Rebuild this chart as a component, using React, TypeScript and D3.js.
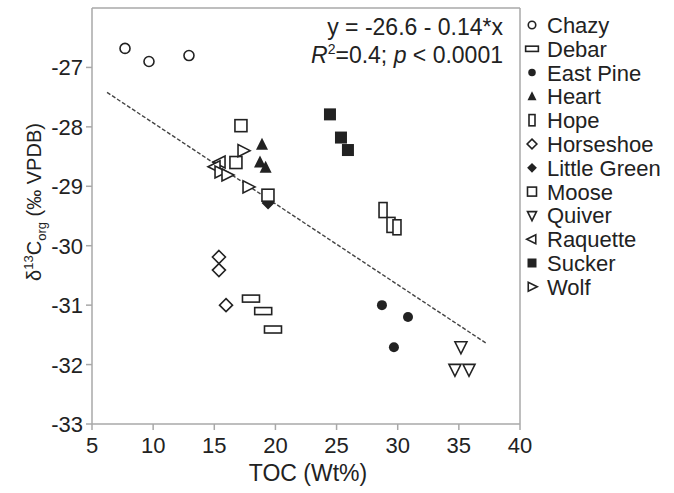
import React from "react";
import * as d3 from "d3";

const seriesNames = ["Chazy","Debar","East Pine","Heart","Hope","Horseshoe","Little Green","Moose","Quiver","Raquette","Sucker","Wolf"];
const chazyX = [7.7, 9.66, 12.93]; const chazyY = [-26.68, -26.9, -26.8];
const debarX = [18.0, 19.0, 19.8]; const debarY = [-30.89, -31.1, -31.41];
const eastPineX = [28.71, 30.84, 29.69]; const eastPineY = [-31.0, -31.2, -31.71];
const heartX = [18.9, 18.74, 19.2]; const heartY = [-28.3, -28.6, -28.69];
const hopeX = [28.8, 29.45, 29.94]; const hopeY = [-29.4, -29.65, -29.69];
const horseshoeX = [15.38, 15.38, 15.96]; const horseshoeY = [-30.19, -30.41, -31.0];
const littleGreenX = [19.4]; const littleGreenY = [-29.28];
const mooseX = [17.18, 16.77, 19.39]; const mooseY = [-27.98, -28.6, -29.15];
const quiverX = [35.17, 34.68, 35.83]; const quiverY = [-31.7, -32.08, -32.08];
const raquetteX = [15.47, 15.06]; const raquetteY = [-28.59, -28.67];
const suckerX = [24.46, 25.36, 25.93]; const suckerY = [-27.79, -28.18, -28.39];
const wolfX = [17.35, 17.76, 15.47, 16.04]; const wolfY = [-28.4, -29.01, -28.76, -28.81];

const xTicks = [5, 10, 15, 20, 25, 30, 35, 40];
const yTicks = [-27, -28, -29, -30, -31, -32, -33];
const fitX = [6.23, 37.3];
const fitY = [-27.42, -31.65];

const seriesX = [chazyX, debarX, eastPineX, heartX, hopeX, horseshoeX, littleGreenX, mooseX, quiverX, raquetteX, suckerX, wolfX];
const seriesY = [chazyY, debarY, eastPineY, heartY, hopeY, horseshoeY, littleGreenY, mooseY, quiverY, raquetteY, suckerY, wolfY];

const INK = "#222";
const AX = "#a8a8a8";
const FONT = "'Liberation Sans', Arial, sans-serif";

function marker(i: number, s: number) {
  const sw = 1.6;
  switch (i) {
    case 0: return <circle r={5 * s} fill="white" stroke={INK} strokeWidth={sw} />;
    case 1: return <rect x={-8.5 * s} y={-3.5 * s} width={17 * s} height={7 * s} fill="white" stroke={INK} strokeWidth={sw} />;
    case 2: return <circle r={5 * s} fill={INK} />;
    case 3: return <path d={`M0,${-7 * s}L${6 * s},${5 * s}L${-6 * s},${5 * s}Z`} fill={INK} />;
    case 4: return <rect x={-4 * s} y={-7.5 * s} width={8 * s} height={15 * s} fill="white" stroke={INK} strokeWidth={sw} />;
    case 5: return <path d={`M0,${-6.5 * s}L${6.5 * s},0L0,${6.5 * s}L${-6.5 * s},0Z`} fill="white" stroke={INK} strokeWidth={sw} />;
    case 6: return <path d={`M0,${-6.5 * s}L${6.5 * s},0L0,${6.5 * s}L${-6.5 * s},0Z`} fill={INK} />;
    case 7: return <rect x={-6 * s} y={-6 * s} width={12 * s} height={12 * s} fill="white" stroke={INK} strokeWidth={sw} />;
    case 8: return <path d={`M${-6 * s},${-5 * s}L${6 * s},${-5 * s}L0,${7 * s}Z`} fill="white" stroke={INK} strokeWidth={sw} />;
    case 9: return <path d={`M${-7 * s},0L${5 * s},${-6 * s}L${5 * s},${6 * s}Z`} fill="white" stroke={INK} strokeWidth={sw} />;
    case 10: return <rect x={-6 * s} y={-6 * s} width={12 * s} height={12 * s} fill={INK} />;
    case 11: return <path d={`M${7 * s},0L${-5 * s},${-6 * s}L${-5 * s},${6 * s}Z`} fill="white" stroke={INK} strokeWidth={sw} />;
  }
  return null;
}

export default function App() {
  const left = 92, right = 520, top = 8, bottom = 424;
  const x = d3.scaleLinear().domain([5, 40]).range([left, right]);
  const y = d3.scaleLinear().domain([-26, -33]).range([top, bottom]);
  const fitLine = d3.line<number>().x((_, i) => x(fitX[i])).y((d) => y(d));

  return (
    <svg width={674} height={493} style={{ position: "absolute", left: 0, top: 0, background: "white" }} fontFamily={FONT}>
      <line x1={left} x2={right} y1={top} y2={top} stroke={AX} strokeWidth={1.5} />
      <line x1={right} x2={right} y1={top} y2={bottom} stroke={AX} strokeWidth={1.5} />
      <line x1={left} x2={left} y1={top} y2={bottom} stroke={AX} strokeWidth={1.5} />
      <line x1={left} x2={right} y1={bottom} y2={bottom} stroke={AX} strokeWidth={1.5} />
      {xTicks.map((t) => (
        <g key={"x" + t}>
          <line x1={x(t)} x2={x(t)} y1={bottom} y2={bottom + 6} stroke={AX} strokeWidth={1.5} />
          <text x={x(t)} y={453} textAnchor="middle" fontSize={22} fill={INK}>{t}</text>
        </g>
      ))}
      {yTicks.map((t) => (
        <g key={"y" + t}>
          <line x1={left - 6} x2={left} y1={y(t)} y2={y(t)} stroke={AX} strokeWidth={1.5} />
          <text x={left - 9} y={y(t) + 8} textAnchor="end" fontSize={22} fill={INK}>{t}</text>
        </g>
      ))}
      <text x={308} y={481} textAnchor="middle" fontSize={23} fill={INK}>TOC (Wt%)</text>
      <text transform={`translate(41,202) rotate(-90)`} textAnchor="middle" fontSize={20} fill={INK}>
        δ<tspan fontSize={13} dy={-8}>13</tspan><tspan dy={8}>C</tspan><tspan fontSize={13} dy={5}>org</tspan><tspan dy={-5}> (‰ VPDB)</tspan>
      </text>
      <path d={fitLine(fitY) || ""} fill="none" stroke="#444" strokeWidth={1.4} strokeDasharray="4,2" />
      <text x={503} y={35} textAnchor="end" fontSize={23} fill={INK}>y = -26.6 - 0.14*x</text>
      <text x={503} y={63} textAnchor="end" fontSize={23} fill={INK}>
        <tspan fontStyle="italic">R</tspan><tspan fontSize={14} dy={-9}>2</tspan><tspan dy={9}>=0.4; </tspan><tspan fontStyle="italic">p</tspan><tspan> &lt; 0.0001</tspan>
      </text>
      {seriesX.map((xs, si) =>
        xs.map((v, j) => (
          <g key={si + "-" + j} transform={`translate(${x(v)},${y(seriesY[si][j])})`}>{marker(si, 1)}</g>
        ))
      )}
      {seriesNames.map((n, i) => (
        <g key={n} transform={`translate(0,${25 + i * 23.8})`}>
          <g transform="translate(532,0)">{marker(i, 0.75)}</g>
          <text x={547} y={8} fontSize={22} fill={INK}>{n}</text>
        </g>
      ))}
    </svg>
  );
}
